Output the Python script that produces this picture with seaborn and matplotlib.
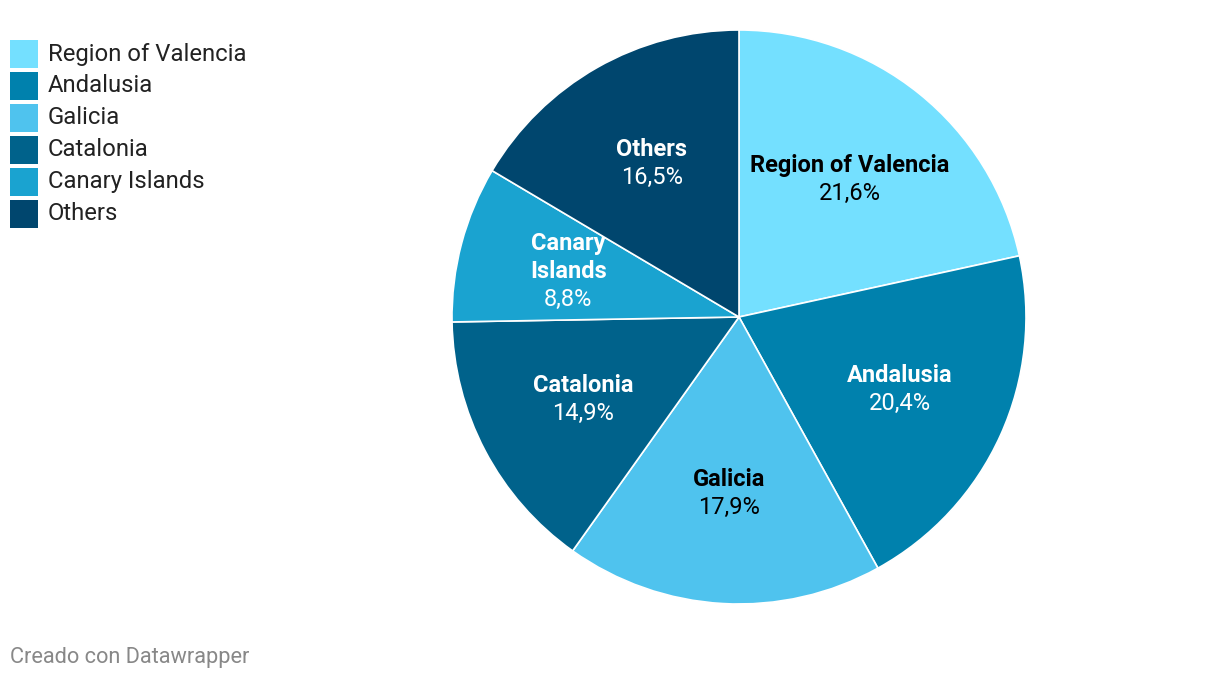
import numpy as np
import seaborn as sns
import matplotlib.pyplot as plt
from matplotlib.patches import Rectangle

# data
regions = ['Region of Valencia', 'Andalusia', 'Galicia', 'Catalonia', 'Canary Islands', 'Others']
label_lines = ['Region of Valencia', 'Andalusia', 'Galicia', 'Catalonia', 'Canary\nIslands', 'Others']
shares = [21.6, 20.4, 17.9, 14.9, 8.8, 16.5]
colors = ['#74e0ff', '#0081ad', '#4fc3ee', '#00628b', '#1aa3d0', '#00466e']
dark_text = ['Region of Valencia', 'Galicia']

sns.set_theme(style='white')
plt.rcParams['font.family'] = ['Roboto', 'DejaVu Sans']

W, H = 1220, 680
fig = plt.figure(figsize=(W / 100, H / 100), dpi=100)
fig.patch.set_facecolor('white')

# pie axes: centre (739, 317) px, radius 287 px
cx, cy, R = 739, 317, 287
ax = fig.add_axes([(cx - R) / W, (H - cy - R) / H, 2 * R / W, 2 * R / H])
palette = sns.color_palette(colors)
wedges, _ = ax.pie(shares, colors=palette, startangle=90, counterclock=False,
                   radius=1, wedgeprops=dict(edgecolor='white', linewidth=1.2))
ax.set_xlim(-1, 1)
ax.set_ylim(-1, 1)
ax.set_aspect('equal')
ax.axis('off')

# labels inside wedges
step = 28 / R
for w, name, lab, v in zip(wedges, regions, label_lines, shares):
    mid = np.deg2rad((w.theta1 + w.theta2) / 2)
    r = 0.615
    x, y = r * np.cos(mid), r * np.sin(mid)
    col = 'black' if name in dark_text else 'white'
    lines = lab.split('\n')
    n = len(lines) + 1
    top = y + step * (n - 1) / 2
    for i, ln in enumerate(lines):
        ax.text(x, top - i * step, ln, ha='center', va='center', fontsize=17,
                fontweight='bold', color=col)
    pct = f"{v:.1f}".replace('.', ',') + '%'
    ax.text(x, top - (n - 1) * step, pct, ha='center', va='center', fontsize=17,
            color=col)

# legend
for i, (name, c) in enumerate(zip(regions, colors)):
    y0 = 40 + 32 * i
    fig.patches.append(Rectangle((10 / W, 1 - (y0 + 28) / H), 28 / W, 28 / H,
                                 transform=fig.transFigure, facecolor=c,
                                 edgecolor='none'))
    fig.text(48 / W, 1 - (y0 + 14) / H, name, ha='left', va='center',
             fontsize=17.2, color='#222222')

# footer
fig.text(10 / W, 1 - 657 / H, 'Creado con Datawrapper', ha='left', va='center',
         fontsize=15.7, color='#888888')

fig.savefig('out.png', dpi=100, facecolor='white')
